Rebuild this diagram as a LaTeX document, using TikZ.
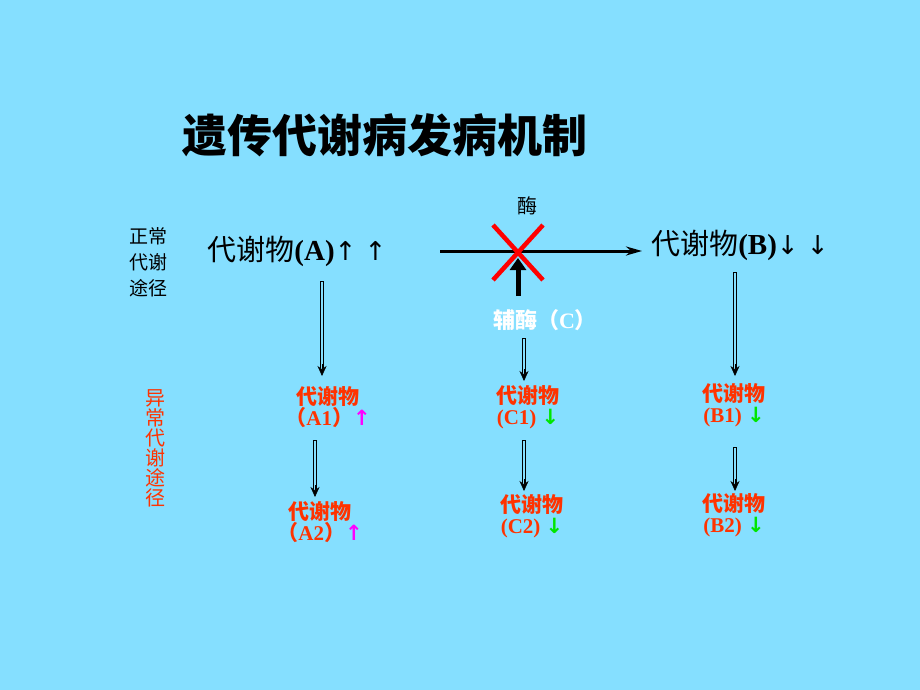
\documentclass[tikz,border=0pt]{standalone}
\usepackage{fontspec}
\setmainfont{Liberation Serif}
\newfontfamily\cjk{Noto Sans CJK SC}
\newfontfamily\sym{DejaVu Sans}
\usetikzlibrary{arrows.meta}
\definecolor{bgblue}{RGB}{133,223,255}
\definecolor{redtext}{RGB}{255,51,0}
\definecolor{upmag}{RGB}{255,0,255}
\definecolor{downgreen}{RGB}{0,230,0}
\newcommand{\fs}[1]{\fontsize{#1}{#1}\selectfont}
\newcommand{\up}{{\color{upmag}\sym ↑}}
\newcommand{\dn}{{\color{downgreen}\sym ↓}}
\newcommand{\patharrow}[2]{%
  \draw[line width=4pt,shorten >=8pt] #1 -- #2;
  \draw[line width=2pt,bgblue,shorten >=7pt,shorten <=0.5pt] #1 -- #2;
  \draw[-{Stealth[length=10pt,width=9pt]},line width=0.6pt] #2 ++(0,-12) -- #2;}
\begin{document}
\begin{tikzpicture}
		[x=1pt,y=-1pt,
		%Styles
		red label/.style={text=redtext,font=\fs{21}\bfseries,align=center,inner sep=0pt},
		side text/.style={font=\cjk\fs{19},align=center,inner sep=0pt}
		]
		
		%The graphic
		\fill[bgblue] (0,0) rectangle (920,690);
		
		\node[font=\cjk\fs{45}\bfseries,inner sep=0pt] (title) at (385,135) {遗传代谢病发病机制};
		
		\node[side text] (normal) at (148,262) {正常\\[7pt]代谢\\[7pt]途径};
		\node[side text,text=redtext,font=\cjk\fs{20}] (abnormal) at (155,448) {异\\常\\代\\谢\\途\\径};
		
		\node[font=\fs{29},inner sep=0pt] (A) at (297,251) {{\cjk 代谢物}\textbf{(A)}{\sym\fs{26}↑ ↑}};
		\node[font=\fs{29},inner sep=0pt] (B) at (740,245) {{\cjk 代谢物}\textbf{(B)}{\sym\fs{26}↓ ↓}};
		\coordinate (start) at (440,251);
		\coordinate (end) at (642,251);
		\draw[line width=3pt,-{Stealth[length=16pt,width=9pt]}] (start) -- (end);
		
		\node[font=\cjk\fs{20}] (enzyme) at (527,206) {酶};
		\draw[red,line width=4.5pt] (493,225) -- (543,280) (543,225) -- (493,280);
		\node[font=\fs{22}\bfseries,text=white,inner sep=0pt] (coenzyme) at (545,320) {{\cjk 辅酶（}C{\cjk ）}};
		\coordinate (cross) at (518,258);
		\draw[line width=5pt,-{Triangle[length=12pt,width=16pt]}] (518,296) -- (cross);
		
		%Lower metabolites
		\node[red label] (A1) at (328,407) {{\cjk 代谢物}\\{\cjk （}A1{\cjk ）}\up};
		\node[red label] (A2) at (320,522) {{\cjk 代谢物}\\{\cjk （}A2{\cjk ）}\up};
		\node[red label] (C1) at (528,407) {{\cjk 代谢物}\\(C1) \dn};
		\node[red label] (C2) at (532,516) {{\cjk 代谢物}\\(C2) \dn};
		\node[red label] (B1) at (734,405) {{\cjk 代谢物}\\(B1) \dn};
		\node[red label] (B2) at (734,515) {{\cjk 代谢物}\\(B2) \dn};
		
		\patharrow{(322,281)}{(322,376)}
		\patharrow{(315,440)}{(315,497)}
		\patharrow{(524,338)}{(524,381)}
		\patharrow{(524,440)}{(524,491)}
		\patharrow{(735,272)}{(735,376)}
		\patharrow{(735,447)}{(735,491)}
	\end{tikzpicture}
\end{document}
